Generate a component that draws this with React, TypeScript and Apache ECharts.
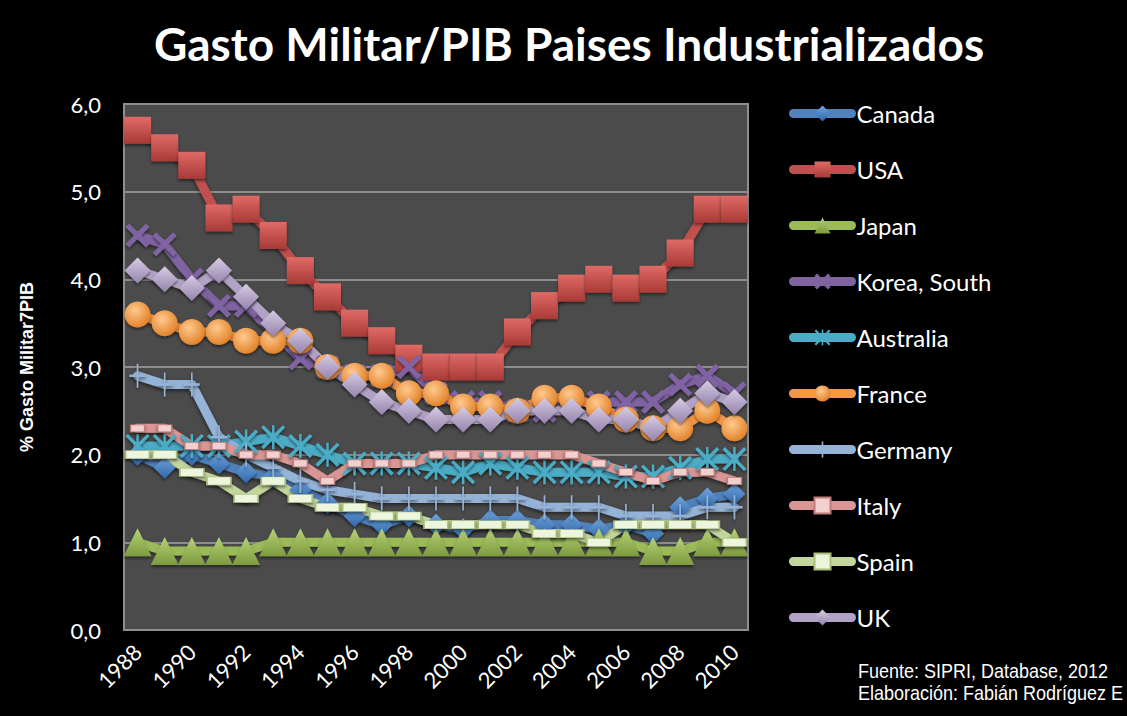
import React, { useEffect, useRef } from "react";
import * as echarts from "echarts";

const YEARS = ["1988","1989","1990","1991","1992","1993","1994","1995","1996","1997","1998","1999","2000","2001","2002","2003","2004","2005","2006","2007","2008","2009","2010"];
const Y_LABELS = ["0,0", "1,0", "2,0", "3,0", "4,0", "5,0", "6,0"];

const CANADA = [2.0,1.85,2.0,1.9,1.8,1.75,1.6,1.45,1.3,1.2,1.3,1.2,1.15,1.25,1.25,1.2,1.2,1.15,1.2,1.1,1.4,1.5,1.55];
const USA = [5.7,5.5,5.3,4.7,4.8,4.5,4.1,3.8,3.5,3.3,3.1,3.0,3.0,3.0,3.4,3.7,3.9,4.0,3.9,4.0,4.3,4.8,4.8];
const JAPAN = [1.0,0.9,0.9,0.9,0.9,1.0,1.0,1.0,1.0,1.0,1.0,1.0,1.0,1.0,1.0,1.0,1.0,1.0,1.0,0.9,0.9,1.0,1.0];
const KOREA = [4.5,4.4,4.0,3.7,3.7,3.4,3.1,3.0,2.9,2.9,3.0,2.7,2.6,2.6,2.5,2.5,2.6,2.6,2.6,2.6,2.8,2.9,2.7];
const AUSTRALIA = [2.1,2.1,2.1,2.1,2.15,2.2,2.1,2.0,1.9,1.9,1.9,1.85,1.8,1.9,1.85,1.8,1.8,1.8,1.75,1.75,1.85,1.95,1.95];
const FRANCE = [3.6,3.5,3.4,3.4,3.3,3.3,3.3,3.0,2.9,2.9,2.7,2.7,2.55,2.55,2.5,2.65,2.65,2.55,2.4,2.3,2.3,2.5,2.3];
const GERMANY = [2.9,2.8,2.8,2.2,2.0,1.85,1.7,1.6,1.55,1.5,1.5,1.5,1.5,1.5,1.5,1.4,1.4,1.4,1.3,1.3,1.3,1.4,1.4];
const ITALY = [2.3,2.3,2.1,2.1,2.0,2.0,1.9,1.7,1.9,1.9,1.9,2.0,2.0,2.0,2.0,2.0,2.0,1.9,1.8,1.7,1.8,1.8,1.7];
const SPAIN = [2.0,2.0,1.8,1.7,1.5,1.7,1.5,1.4,1.4,1.3,1.3,1.2,1.2,1.2,1.2,1.1,1.1,1.0,1.2,1.2,1.2,1.2,1.0];
const UK = [4.1,4.0,3.9,4.1,3.8,3.5,3.3,3.0,2.8,2.6,2.5,2.4,2.4,2.4,2.5,2.5,2.5,2.4,2.4,2.3,2.5,2.7,2.6];

const TITLE = "Gasto Militar/PIB Paises Industrializados";
const Y_NAME = "% Gasto Militar7PIB";
const SOURCE_1 = "Fuente: SIPRI, Database, 2012";
const SOURCE_2 = "Elaboración: Fabián Rodríguez E";

const X_PATH = "path://M0,3 L3,0 L20,17 L17,20 Z M17,0 L20,3 L3,20 L0,17 Z";
const STAR_PATH = "path://M0,2 L2,0 L20,18 L18,20 Z M18,0 L20,2 L2,20 L0,18 Z M9,0 L11,0 L11,20 L9,20 Z";
const PLUS_PATH = "path://M9,0 L11,0 L11,20 L9,20 Z M0,9 L20,9 L20,11 L0,11 Z";

const vgrad = (top: string, bottom: string) =>
  new echarts.graphic.LinearGradient(0, 0, 0, 1, [
    { offset: 0, color: top },
    { offset: 1, color: bottom },
  ]);
const rgrad = (inner: string, outer: string) =>
  new echarts.graphic.RadialGradient(0.4, 0.35, 0.7, [
    { offset: 0, color: inner },
    { offset: 1, color: outer },
  ]);

function mk(name: string, data: number[], lineColor: string, symbol: string, size: any, markerColor: any, border?: string, lineWidth = 9) {
  return {
    name,
    type: "line",
    data,
    symbol,
    symbolSize: size,
    showSymbol: true,
    showAllSymbol: true,
    lineStyle: {
      color: lineColor,
      width: lineWidth,
      cap: "round",
      join: "round",
      shadowColor: "rgba(0,0,0,0.55)",
      shadowBlur: 4,
      shadowOffsetY: 2,
    },
    itemStyle: {
      color: markerColor,
      borderColor: border || lineColor,
      borderWidth: border ? 1 : 0,
      shadowColor: "rgba(0,0,0,0.5)",
      shadowBlur: 3,
      shadowOffsetY: 2,
    },
    emphasis: { disabled: true },
  };
}

export default function App() {
  const ref = useRef<HTMLDivElement>(null);
  useEffect(() => {
    document.body.style.margin = "0";
    const chart = echarts.init(ref.current!, undefined, { renderer: "svg" });
    const font = "Lato, 'Open Sans', sans-serif";
    const srcFont = "20px 'Liberation Sans Narrow', 'Liberation Sans', sans-serif";
    chart.setOption({
      animation: false,
      backgroundColor: "#000000",
      textStyle: { fontFamily: font },
      graphic: [
        {
          type: "text",
          x: 569,
          y: 43,
          style: {
            text: TITLE,
            fill: "#ffffff",
            font: "bold 46px Lato, sans-serif",
            textAlign: "center",
            textVerticalAlign: "middle",
          },
        },
        {
          type: "text",
          x: 858,
          y: 671,
          scaleX: 0.9,
          style: { text: SOURCE_1, fill: "#ffffff", font: srcFont, textAlign: "left", textVerticalAlign: "middle" },
        },
        {
          type: "text",
          x: 858,
          y: 693,
          scaleX: 0.9,
          style: { text: SOURCE_2, fill: "#ffffff", font: srcFont, textAlign: "left", textVerticalAlign: "middle" },
        },
      ],
      legend: {
        orient: "vertical",
        left: 784,
        top: 96,
        itemWidth: 58,
        itemHeight: 20,
        itemGap: 31,
        lineStyle: { width: 9, cap: "round" },
        textStyle: { color: "#ffffff", fontSize: 24, fontFamily: font, lineHeight: 25 },
        data: ["Canada", "USA", "Japan", "Korea, South", "Australia", "France", "Germany", "Italy", "Spain", "UK"],
      },
      grid: {
        left: 124,
        top: 104,
        width: 624,
        height: 526,
        show: true,
        backgroundColor: "#4b4b4b",
        borderColor: "#8e8e8e",
        borderWidth: 2,
        containLabel: false,
      },
      xAxis: {
        type: "category",
        data: YEARS,
        boundaryGap: true,
        axisLine: { show: false },
        axisTick: { show: false },
        splitLine: { show: false },
        axisLabel: {
          interval: 1,
          rotate: 45,
          color: "#ffffff",
          fontSize: 22,
          fontFamily: font,
          margin: 18,
        },
      },
      yAxis: {
        type: "value",
        min: 0,
        max: 6,
        interval: 1,
        name: Y_NAME,
        nameLocation: "middle",
        nameGap: 88,
        nameTextStyle: { color: "#ffffff", fontSize: 18, fontWeight: "bold", fontFamily: "'Liberation Sans', Arial, sans-serif" },
        axisLine: { show: false },
        axisTick: { show: false },
        splitLine: { lineStyle: { color: "#8e8e8e", width: 2 } },
        axisLabel: {
          color: "#ffffff",
          fontSize: 22,
          fontFamily: font,
          margin: 23,
          formatter: (v: number) => Y_LABELS[Math.round(v)],
        },
      },
      series: [
        mk("Canada", CANADA, "#4F81BD", "diamond", 22, vgrad("#6fa3dd", "#2f67a8")),
        mk("USA", USA, "#C0504D", "rect", 27, vgrad("#e06a66", "#a83a37")),
        mk("Japan", JAPAN, "#9BBB59", "triangle", [28, 28], vgrad("#b5d276", "#7d9a3e")),
        mk("Korea, South", KOREA, "#8064A2", X_PATH, 24, "#8064A2"),
        mk("Australia", AUSTRALIA, "#4BACC6", STAR_PATH, 24, "#4BACC6"),
        mk("France", FRANCE, "#F79646", "circle", 26, rgrad("#ffc98f", "#e07e22")),
        mk("Germany", GERMANY, "#95B3D7", PLUS_PATH, [16, 24], "#95B3D7"),
        mk("Italy", ITALY, "#D99694", "rect", [14, 7], "#f2d0cf", "#c07c7a"),
        mk("Spain", SPAIN, "#C3D69B", "rect", [24, 8], "#eef5dd", "#a8bd7c"),
        mk("UK", UK, "#B3A2C7", "diamond", 26, vgrad("#d6cbe3", "#9583ad")),
      ],
    });
    return () => chart.dispose();
  }, []);
  return <div ref={ref} style={{ width: 1127, height: 716 }} />;
}
